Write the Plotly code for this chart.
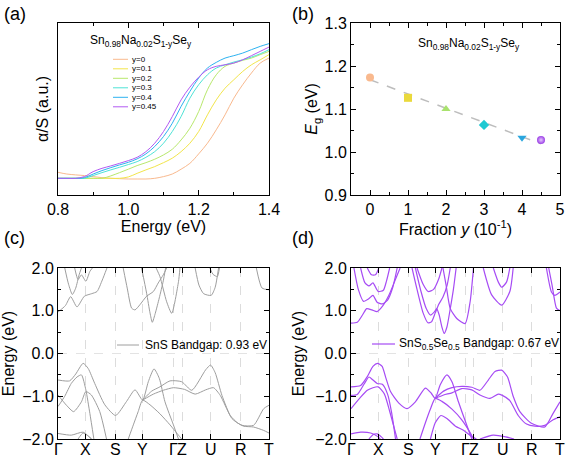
import plotly.graph_objects as go

# ---------------- (a) absorption spectra ----------------
energy = [0.800, 0.825, 0.850, 0.875, 0.900, 0.925, 0.950, 0.975, 1.000, 1.025,
          1.050, 1.075, 1.100, 1.125, 1.150, 1.175, 1.200, 1.225, 1.250, 1.275,
          1.300, 1.325, 1.350, 1.375, 1.400]
abs_y0 = [0.132, 0.122, 0.117, 0.113, 0.107, 0.101, 0.097, 0.095, 0.093, 0.093,
          0.093, 0.097, 0.107, 0.122, 0.150, 0.184, 0.239, 0.301, 0.379, 0.466,
          0.563, 0.641, 0.709, 0.767, 0.796]
abs_y01 = [0.097, 0.097, 0.097, 0.097, 0.097, 0.097, 0.097, 0.097, 0.105, 0.126,
           0.146, 0.165, 0.188, 0.214, 0.252, 0.301, 0.369, 0.466, 0.553, 0.621,
           0.670, 0.718, 0.757, 0.786, 0.816]
abs_y02 = [0.097, 0.097, 0.097, 0.097, 0.097, 0.097, 0.111, 0.130, 0.150, 0.171,
           0.188, 0.208, 0.233, 0.266, 0.320, 0.388, 0.485, 0.612, 0.699, 0.748,
           0.767, 0.783, 0.796, 0.816, 0.835]
abs_y03 = [0.097, 0.097, 0.097, 0.097, 0.113, 0.130, 0.146, 0.161, 0.177, 0.194,
           0.219, 0.252, 0.301, 0.369, 0.456, 0.563, 0.641, 0.699, 0.738, 0.757,
           0.773, 0.786, 0.802, 0.821, 0.845]
abs_y04 = [0.097, 0.097, 0.097, 0.101, 0.122, 0.142, 0.159, 0.175, 0.190, 0.210,
           0.239, 0.282, 0.340, 0.417, 0.515, 0.602, 0.680, 0.738, 0.771, 0.796,
           0.810, 0.825, 0.845, 0.864, 0.880]
abs_y045 = [0.097, 0.097, 0.097, 0.107, 0.136, 0.155, 0.169, 0.184, 0.200, 0.219,
            0.252, 0.301, 0.369, 0.456, 0.553, 0.627, 0.685, 0.728, 0.748, 0.757,
            0.767, 0.786, 0.810, 0.835, 0.860]
abs_names = ["y=0", "y=0.1", "y=0.2", "y=0.3", "y=0.4", "y=0.45"]
abs_colors = ["#F9B98E", "#F2E54A", "#B8E86C", "#4EE3D6", "#2DB2F0", "#B25AF2"]

# ---------------- (b) band gap vs fraction ----------------
fraction = [0, 1, 2, 3, 4, 4.5]
eg = [1.173, 1.126, 1.100, 1.063, 1.033, 1.028]
eg_symbols = ["circle", "square", "triangle-up", "diamond", "triangle-down", "circle"]
eg_colors = ["#F9B98E", "#EAD93C", "#A9E26E", "#1FC9D2", "#2AA6DE", "#9B3FE6"]
fit_x = [0, 4.5]
fit_y = [1.168, 1.019]

# ---------------- (c)/(d) band structures: (k, E) ----------------
kpath = [0, 0.131, 0.273, 0.402, 0.549, 0.588, 0.725, 0.866, 1.0]
klabels = ["Γ", "X", "S", "Y", "Γ", "Z", "U", "R", "T"]

sns_cb1 = [(0, 0.97), (0.035, 1.12), (0.060, 1.33), (0.090, 1.09), (0.125, 1.34), (0.160, 1.40),
           (0.185, 1.45), (0.210, 1.72), (0.232, 2.0)]
sns_cb2 = [(0.032, 2.0), (0.050, 1.62), (0.068, 1.38), (0.084, 1.53), (0.100, 1.84), (0.111, 2.0)]
sns_cb3 = [(0.079, 2.0), (0.095, 1.73), (0.111, 1.84), (0.132, 1.69), (0.151, 1.92), (0.163, 2.0)]
sns_cb4 = [(0.309, 2.0), (0.328, 1.53), (0.349, 1.06), (0.365, 1.02), (0.388, 1.14), (0.420, 1.34),
           (0.452, 1.45), (0.475, 1.65), (0.499, 1.84), (0.515, 2.0)]
sns_cb5 = [(0.396, 2.0), (0.420, 1.41), (0.436, 0.95), (0.447, 0.73), (0.461, 0.94), (0.480, 1.30),
           (0.499, 1.70), (0.510, 2.0)]
sns_cb6 = [(0.465, 2.0), (0.483, 1.80), (0.515, 1.21), (0.539, 0.94), (0.571, 1.68), (0.578, 2.0)]
sns_cb7 = [(0.650, 2.0), (0.668, 1.60), (0.690, 1.40), (0.726, 1.36), (0.745, 1.55), (0.761, 2.0)]
sns_cb8 = [(0.720, 2.0), (0.735, 1.85), (0.755, 1.80), (0.765, 2.0)]
sns_cb9 = [(0.940, 2.0), (0.967, 1.53), (1.0, 1.49)]
sns_vb1 = [(0, -0.62), (0.055, -0.64), (0.084, -0.48), (0.119, -0.23), (0.143, -0.35), (0.174, -0.70),
           (0.222, -1.20), (0.273, -1.45), (0.325, -1.12), (0.365, -0.85), (0.401, -1.09),
           (0.428, -0.66), (0.455, -0.36), (0.480, -0.58), (0.507, -1.13), (0.547, -1.67), (0.571, -2.0)]
sns_vb2 = [(0, -0.97), (0.040, -1.21), (0.074, -1.36), (0.111, -1.13), (0.132, -0.89), (0.158, -0.97),
           (0.198, -1.36), (0.230, -2.0)]
sns_vb3 = [(0, -1.24), (0.032, -1.00), (0.063, -0.70), (0.090, -0.55), (0.111, -0.50), (0.132, -0.85),
           (0.151, -1.40), (0.170, -2.0)]
sns_vb4 = [(0.401, -1.09), (0.444, -0.88), (0.483, -0.78), (0.531, -0.64), (0.586, -0.66),
           (0.634, -0.86), (0.700, -0.38), (0.723, -0.27), (0.745, -0.45), (0.777, -0.98),
           (0.824, -1.52), (0.872, -1.68), (0.927, -1.68), (0.975, -1.29), (1.0, -1.21)]
sns_vb5 = [(0.401, -1.09), (0.452, -0.95), (0.499, -0.86), (0.547, -0.80), (0.600, -0.84),
           (0.650, -0.95), (0.700, -0.85), (0.737, -0.80), (0.769, -0.98), (0.816, -1.45),
           (0.850, -1.62), (0.880, -1.70), (0.927, -1.72), (0.975, -1.80), (1.0, -1.86)]
sns_vb6 = [(0.333, -2.0), (0.357, -1.67), (0.380, -1.36), (0.401, -1.09), (0.436, -1.20),
           (0.483, -1.41), (0.531, -1.67), (0.571, -1.91), (0.586, -2.0)]
sns_vb7 = [(0, -1.87), (0.063, -1.91), (0.119, -1.84), (0.158, -2.0)]
sns_vb8 = [(0.095, -2.0), (0.119, -1.86), (0.143, -1.93), (0.160, -2.0)]

snse_cb1 = [(0, 0.71), (0.030, 0.73), (0.055, 0.90), (0.075, 1.05), (0.100, 1.02), (0.125, 0.98),
            (0.150, 1.10), (0.180, 1.35), (0.210, 1.70), (0.235, 2.0)]
snse_cb2 = [(0.014, 2.0), (0.035, 1.50), (0.060, 1.22), (0.085, 1.28), (0.105, 1.36), (0.125, 1.20),
            (0.150, 1.16), (0.175, 1.25), (0.200, 1.55), (0.221, 2.0)]
snse_cb3 = [(0.046, 2.0), (0.067, 1.65), (0.086, 1.58), (0.105, 1.65), (0.130, 1.45), (0.155, 1.48),
            (0.170, 1.70), (0.185, 2.0)]
snse_cb4 = [(0.078, 2.0), (0.098, 1.84), (0.117, 1.84), (0.133, 2.0)]
snse_cb5 = [(0.292, 2.0), (0.316, 1.50), (0.345, 0.95), (0.368, 0.72), (0.385, 0.74), (0.403, 0.95),
            (0.420, 1.15), (0.440, 1.32), (0.460, 1.60), (0.475, 2.0)]
snse_cb6 = [(0.308, 2.0), (0.335, 1.45), (0.360, 1.05), (0.380, 0.90), (0.400, 0.98), (0.410, 1.05),
            (0.422, 0.90), (0.435, 0.62), (0.446, 0.47), (0.459, 0.62), (0.475, 1.05),
            (0.490, 1.50), (0.503, 2.0)]
snse_cb7 = [(0.316, 2.0), (0.345, 1.62), (0.370, 1.45), (0.395, 1.50), (0.420, 1.75), (0.435, 2.0)]
snse_cb8 = [(0.440, 2.0), (0.455, 1.60), (0.475, 1.05), (0.506, 0.82), (0.546, 0.70), (0.570, 1.21),
            (0.586, 2.0)]
snse_cb9 = [(0.633, 2.0), (0.673, 1.37), (0.721, 1.13), (0.760, 1.45), (0.776, 2.0)]
snse_cb10 = [(0.681, 2.0), (0.705, 1.67), (0.721, 1.55), (0.744, 1.67), (0.760, 2.0)]
snse_cb11 = [(0.935, 2.0), (0.959, 1.44), (0.975, 1.36), (1.0, 1.44)]
snse_cb12 = [(0.946, 2.0), (0.962, 1.60), (0.983, 1.06), (1.0, 1.0)]
snse_vb1 = [(0, -0.78), (0.046, -0.75), (0.078, -0.54), (0.105, -0.30), (0.127, -0.23), (0.149, -0.30),
            (0.165, -0.54), (0.189, -0.89), (0.229, -1.16), (0.268, -1.29), (0.308, -1.13),
            (0.356, -0.81), (0.384, -0.93), (0.403, -1.05), (0.427, -0.73), (0.459, -0.50),
            (0.483, -0.66), (0.514, -1.13), (0.554, -1.68), (0.578, -2.0)]
snse_vb2 = [(0, -0.98), (0.030, -0.96), (0.062, -0.72), (0.086, -0.55), (0.105, -0.62), (0.125, -0.70),
            (0.150, -0.72), (0.175, -0.95), (0.195, -1.40), (0.213, -2.0)]
snse_vb3 = [(0, -1.29), (0.046, -1.02), (0.078, -0.86), (0.105, -0.80), (0.130, -0.78), (0.160, -0.95),
            (0.185, -1.35), (0.210, -1.80), (0.221, -2.0)]
snse_vb4 = [(0, -1.88), (0.046, -1.84), (0.094, -1.86), (0.130, -1.95), (0.140, -2.0)]
snse_vb5 = [(0.086, -2.0), (0.105, -1.90), (0.125, -1.88), (0.145, -1.95), (0.155, -2.0)]
snse_vb6 = [(0.403, -1.05), (0.443, -0.88), (0.483, -0.80), (0.530, -0.77), (0.578, -0.79),
            (0.617, -0.86), (0.657, -0.62), (0.689, -0.42), (0.721, -0.39), (0.749, -0.55),
            (0.776, -1.00), (0.808, -1.36), (0.863, -1.63), (0.927, -1.72), (0.967, -1.40), (1.0, -1.13)]
snse_vb7 = [(0.403, -1.05), (0.443, -0.97), (0.483, -0.92), (0.530, -0.82), (0.578, -0.85),
            (0.617, -0.97), (0.665, -1.05), (0.705, -0.95), (0.724, -0.98), (0.760, -1.10),
            (0.800, -1.45), (0.840, -1.65), (0.880, -1.70), (0.927, -1.68), (0.967, -1.55), (1.0, -1.48)]
snse_vb8 = [(0.330, -2.0), (0.356, -1.62), (0.380, -1.30), (0.403, -1.05), (0.435, -1.12),
            (0.483, -1.30), (0.530, -1.55), (0.570, -1.85), (0.586, -2.0)]
snse_vb9 = [(0.380, -2.0), (0.403, -1.62), (0.430, -1.45), (0.459, -1.52), (0.500, -1.70),
            (0.540, -1.80), (0.580, -1.95), (0.600, -2.0)]
snse_vb10 = [(0.617, -2.0), (0.680, -1.91), (0.740, -1.95), (0.780, -2.0)]

sns_bands = [sns_cb1, sns_cb2, sns_cb3, sns_cb4, sns_cb5, sns_cb6, sns_cb7, sns_cb8, sns_cb9,
             sns_vb1, sns_vb2, sns_vb3, sns_vb4, sns_vb5, sns_vb6, sns_vb7, sns_vb8]
snse_bands = [snse_cb1, snse_cb2, snse_cb3, snse_cb4, snse_cb5, snse_cb6, snse_cb7, snse_cb8,
              snse_cb9, snse_cb10, snse_cb11, snse_cb12, snse_vb1, snse_vb2, snse_vb3, snse_vb4,
              snse_vb5, snse_vb6, snse_vb7, snse_vb8, snse_vb9, snse_vb10]
GREY = "#9E9E9E"
PURPLE = "#A64BF4"

FONT = "Liberation Sans, Arial, sans-serif"
fig = go.Figure()

for ys, c in zip([abs_y0, abs_y01, abs_y02, abs_y03, abs_y04, abs_y045], abs_colors):
    fig.add_trace(go.Scatter(x=energy, y=ys, mode="lines", xaxis="x", yaxis="y",
                             line=dict(color=c, width=1, shape="spline")))

fig.add_trace(go.Scatter(x=fit_x, y=fit_y, mode="lines", xaxis="x2", yaxis="y2",
                         line=dict(color="#BDBDBD", width=1.5, dash="dash")))
for i in range(len(fraction)):
    mk = dict(symbol=eg_symbols[i], size=8, color=eg_colors[i], line=dict(width=0))
    if i == len(fraction) - 1:
        mk["gradient"] = dict(type="radial", color="#E6C8FF")
    fig.add_trace(go.Scatter(x=[fraction[i]], y=[eg[i]], mode="markers", xaxis="x2", yaxis="y2",
                             marker=mk))

for band in sns_bands:
    k, e = zip(*band)
    fig.add_trace(go.Scatter(x=k, y=e, mode="lines", xaxis="x3", yaxis="y3",
                             line=dict(color=GREY, width=1, shape="spline", smoothing=0.6)))
for band in snse_bands:
    k, e = zip(*band)
    fig.add_trace(go.Scatter(x=k, y=e, mode="lines", xaxis="x4", yaxis="y4",
                             line=dict(color=PURPLE, width=1.2, shape="spline", smoothing=0.6)))

ax = dict(showline=True, linecolor="black", linewidth=1, mirror="ticks", ticks="inside",
          ticklen=5, tickcolor="black", showgrid=False, zeroline=False, automargin=False,
          tickfont=dict(size=16, family=FONT, color="black"),
          title_font=dict(size=16, family=FONT, color="black"))
minor = dict(ticks="inside", ticklen=3, tickcolor="black", showgrid=False)

X1 = [58 / 567, 269 / 567]
X2 = [351 / 567, 560 / 567]
YT = [1 - 195 / 459, 1 - 23 / 459]
YB = [1 - 439 / 459, 1 - 268 / 459]

fig.update_layout(
    width=567, height=459, margin=dict(l=0, r=0, t=0, b=0, autoexpand=False),
    paper_bgcolor="white", plot_bgcolor="white", showlegend=False,
    font=dict(family=FONT, color="black"),
    xaxis=dict(ax, domain=X1, anchor="y", range=[0.8, 1.4], tickvals=[0.8, 1.0, 1.2, 1.4],
               ticktext=["0.8", "1.0", "1.2", "1.4"], minor=dict(minor, dtick=0.1),
               title=dict(text="Energy (eV)", standoff=2)),
    yaxis=dict(ax, domain=YT, anchor="x", range=[0, 1], ticks="", showticklabels=False,
               title=dict(text="α/S (a.u.)", standoff=4)),
    xaxis2=dict(ax, domain=X2, anchor="y2", range=[-0.5, 5], dtick=1, minor=dict(minor, dtick=0.5),
                title=dict(text="Fraction <i>y</i> (10<sup>-1</sup>)", standoff=2)),
    yaxis2=dict(ax, domain=YT, anchor="x2", range=[0.9, 1.3], dtick=0.1, tickformat=".1f",
                minor=dict(minor, dtick=0.05),
                title=dict(text="<i>E</i><sub>g</sub> (eV)", standoff=2)),
    xaxis3=dict(ax, domain=X1, anchor="y3", range=[0, 1], tickvals=kpath, showticklabels=False,
                showgrid=True, gridcolor="#DCDCDC", griddash="dash", gridwidth=0.8),
    yaxis3=dict(ax, domain=YB, anchor="x3", range=[-2, 2], dtick=1, tickformat=".1f",
                minor=dict(minor, dtick=0.5), title=dict(text="Energy (eV)", standoff=6)),
    xaxis4=dict(ax, domain=X2, anchor="y4", range=[0, 1], tickvals=kpath, showticklabels=False,
                showgrid=True, gridcolor="#DCDCDC", griddash="dash", gridwidth=0.8),
    yaxis4=dict(ax, domain=YB, anchor="x4", range=[-2, 2], dtick=1, tickformat=".1f",
                minor=dict(minor, dtick=0.5), title=dict(text="Energy (eV)", standoff=6)),
)

# high-symmetry point labels, set tight under the axis
for xr in ["x3", "x4"]:
    for kv, lab in zip(kpath, klabels):
        fig.add_annotation(text=lab, x=kv, xref=xr, y=1 - 449 / 459, yref="paper",
                           xanchor="center", yanchor="middle", showarrow=False,
                           font=dict(size=16, family=FONT, color="black"))

# zero-energy reference lines
for xr, yr in [("x3 domain", "y3"), ("x4 domain", "y4")]:
    fig.add_shape(type="line", xref=xr, yref=yr, x0=0, x1=1, y0=0, y1=0,
                  line=dict(color="#DCDCDC", width=0.8, dash="dash"), layer="below")

# panel labels
for lab, x, y in [("(a)", 2, 14), ("(b)", 290, 14), ("(c)", 2, 238), ("(d)", 290, 238)]:
    fig.add_annotation(text=lab, x=x / 567, y=1 - y / 459, xref="paper", yref="paper",
                       xanchor="left", yanchor="middle", showarrow=False,
                       font=dict(size=18, family=FONT, color="black"))

formula = "Sn<sub>0.98</sub>Na<sub>0.02</sub>S<sub>1-y</sub>Se<sub>y</sub>"
fig.add_annotation(text=formula, x=141 / 567, y=1 - 41 / 459, xref="paper", yref="paper",
                   xanchor="center", yanchor="middle",
                   showarrow=False, font=dict(size=12, family=FONT, color="black"))
fig.add_annotation(text=formula, x=469 / 567, y=1 - 44 / 459, xref="paper", yref="paper",
                   xanchor="center", yanchor="middle",
                   showarrow=False, font=dict(size=12, family=FONT, color="black"))

# legend of panel (a)
for i, (name, c) in enumerate(zip(abs_names, abs_colors)):
    yy = 1 - (59.3 + 9.5 * i) / 459
    fig.add_shape(type="line", xref="paper", yref="paper", x0=113 / 567, x1=128 / 567,
                  y0=yy, y1=yy, line=dict(color=c, width=1))
    fig.add_annotation(text=name, x=130 / 567, y=yy, xref="paper", yref="paper",
                       xanchor="left", yanchor="middle", showarrow=False,
                       font=dict(size=8, family=FONT, color="black"))

# legends of panels (c) and (d)
fig.add_shape(type="line", xref="paper", yref="paper", x0=117 / 567, x1=139 / 567,
              y0=1 - 345 / 459, y1=1 - 345 / 459, line=dict(color=GREY, width=1))
fig.add_annotation(text="SnS Bandgap: 0.93 eV", x=143 / 567, y=1 - 345 / 459,
                   xref="paper", yref="paper", xanchor="left", yanchor="middle",
                   showarrow=False, font=dict(size=12, family=FONT, color="black"))
fig.add_shape(type="line", xref="paper", yref="paper", x0=372 / 567, x1=395 / 567,
              y0=1 - 344 / 459, y1=1 - 344 / 459, line=dict(color=PURPLE, width=1.2))
fig.add_annotation(text="SnS<sub>0.5</sub>Se<sub>0.5</sub> Bandgap: 0.67 eV", x=397 / 567,
                   y=1 - 344 / 459, xref="paper", yref="paper", xanchor="left", yanchor="middle",
                   showarrow=False, font=dict(size=12, family=FONT, color="black"))

fig.write_html("out.html", config={"displayModeBar": False},
               post_script="document.body.style.margin='0px';")
